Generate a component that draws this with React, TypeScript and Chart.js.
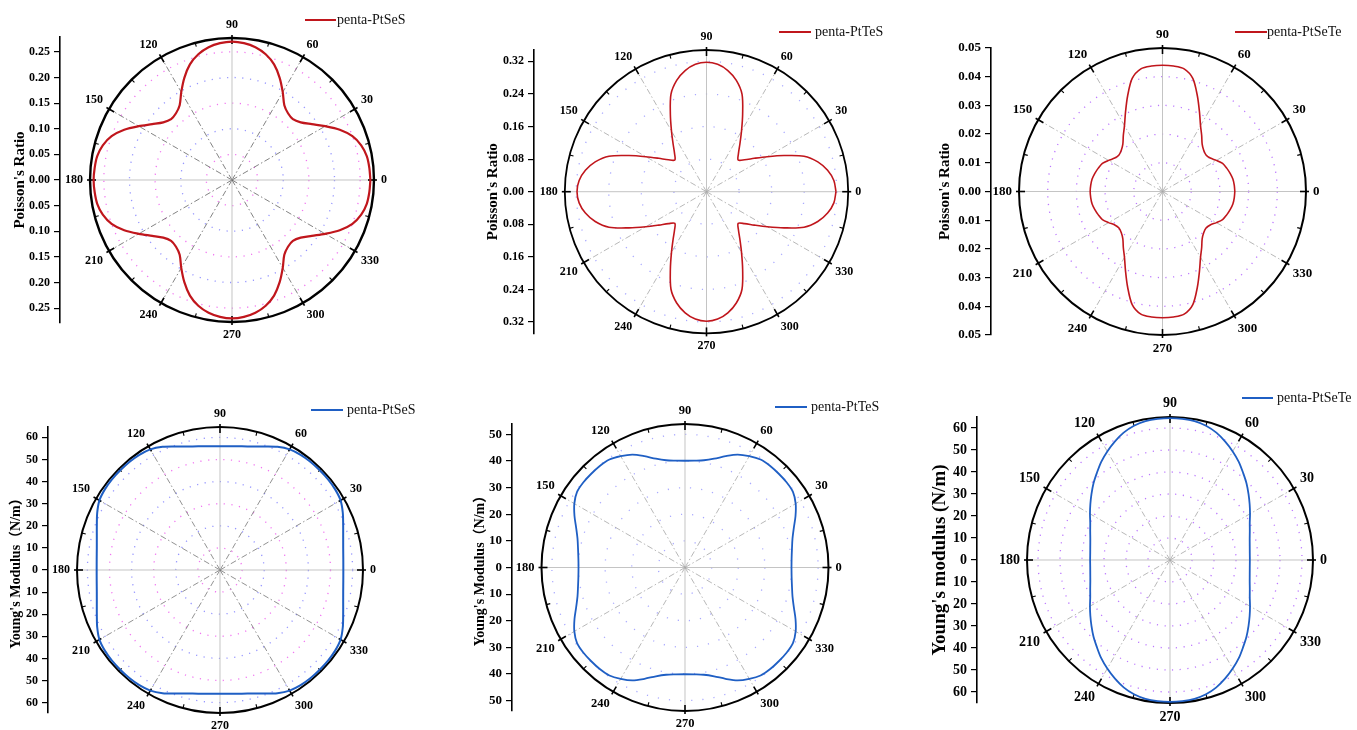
import React, { useEffect, useRef } from 'react';
import { Chart, registerables } from 'chart.js';

Chart.register(...registerables);

// ---------- data ----------
const angles = [
  0, 5, 10, 15, 20, 25, 30, 35, 40, 45, 50, 55, 60, 65, 70, 75, 80, 85, 90,
  95, 100, 105, 110, 115, 120, 125, 130, 135, 140, 145, 150, 155, 160, 165, 170, 175, 180,
  185, 190, 195, 200, 205, 210, 215, 220, 225, 230, 235, 240, 245, 250, 255, 260, 265, 270,
  275, 280, 285, 290, 295, 300, 305, 310, 315, 320, 325, 330, 335, 340, 345, 350, 355, 360,
];

const angleLabels = [0, 30, 60, 90, 120, 150, 180, 210, 240, 270, 300, 330];

const ratioPtSeS = [
  0.270, 0.269, 0.267, 0.261, 0.250, 0.232, 0.210, 0.190, 0.175, 0.168, 0.170, 0.178, 0.198, 0.220, 0.240, 0.254, 0.263, 0.268, 0.270,
  0.268, 0.263, 0.254, 0.240, 0.220, 0.198, 0.178, 0.170, 0.168, 0.175, 0.190, 0.210, 0.232, 0.250, 0.261, 0.267, 0.269, 0.270,
  0.269, 0.267, 0.261, 0.250, 0.232, 0.210, 0.190, 0.175, 0.168, 0.170, 0.178, 0.198, 0.220, 0.240, 0.254, 0.263, 0.268, 0.270,
  0.268, 0.263, 0.254, 0.240, 0.220, 0.198, 0.178, 0.170, 0.168, 0.175, 0.190, 0.210, 0.232, 0.250, 0.261, 0.267, 0.269, 0.270,
];

const ratioPtTeS = [
  0.318, 0.314, 0.302, 0.283, 0.255, 0.210, 0.172, 0.143, 0.122, 0.110, 0.122, 0.143, 0.172, 0.210, 0.255, 0.283, 0.302, 0.314, 0.318,
  0.314, 0.302, 0.283, 0.255, 0.210, 0.172, 0.143, 0.122, 0.110, 0.122, 0.143, 0.172, 0.210, 0.255, 0.283, 0.302, 0.314, 0.318,
  0.314, 0.302, 0.283, 0.255, 0.210, 0.172, 0.143, 0.122, 0.110, 0.122, 0.143, 0.172, 0.210, 0.255, 0.283, 0.302, 0.314, 0.318,
  0.314, 0.302, 0.283, 0.255, 0.210, 0.172, 0.143, 0.122, 0.110, 0.122, 0.143, 0.172, 0.210, 0.255, 0.283, 0.302, 0.314, 0.318,
];

const ratioPtSeTe = [
  0.0252, 0.0251, 0.0249, 0.0244, 0.0238, 0.0231, 0.0217, 0.0203, 0.0198, 0.0203, 0.0215, 0.0238, 0.0265, 0.0305, 0.0355, 0.0408, 0.0434, 0.0439, 0.0440,
  0.0439, 0.0434, 0.0408, 0.0355, 0.0305, 0.0265, 0.0238, 0.0215, 0.0203, 0.0198, 0.0203, 0.0217, 0.0231, 0.0238, 0.0244, 0.0249, 0.0251, 0.0252,
  0.0251, 0.0249, 0.0244, 0.0238, 0.0231, 0.0217, 0.0203, 0.0198, 0.0203, 0.0215, 0.0238, 0.0265, 0.0305, 0.0355, 0.0408, 0.0434, 0.0439, 0.0440,
  0.0439, 0.0434, 0.0408, 0.0355, 0.0305, 0.0265, 0.0238, 0.0215, 0.0203, 0.0198, 0.0203, 0.0217, 0.0231, 0.0238, 0.0244, 0.0249, 0.0251, 0.0252,
];

const youngPtSeS = [
  55.8, 56.0, 56.6, 57.7, 59.3, 61.3, 63.0, 63.6, 63.8, 63.8, 63.8, 63.6, 63.0, 61.5, 59.5, 57.9, 56.8, 56.2, 56.0,
  56.2, 56.8, 57.9, 59.5, 61.5, 63.0, 63.6, 63.8, 63.8, 63.8, 63.6, 63.0, 61.3, 59.3, 57.7, 56.6, 56.0, 55.8,
  56.0, 56.6, 57.7, 59.3, 61.3, 63.0, 63.6, 63.8, 63.8, 63.8, 63.6, 63.0, 61.5, 59.5, 57.9, 56.8, 56.2, 56.0,
  56.2, 56.8, 57.9, 59.5, 61.5, 63.0, 63.6, 63.8, 63.8, 63.8, 63.6, 63.0, 61.3, 59.3, 57.7, 56.6, 56.0, 55.8,
];

const youngPtTeS = [
  40.0, 40.2, 40.8, 41.8, 43.5, 45.8, 48.0, 49.5, 49.8, 49.8, 49.8, 49.5, 48.3, 46.8, 44.5, 42.3, 40.9, 40.3, 40.1,
  40.3, 40.9, 42.3, 44.5, 46.8, 48.3, 49.5, 49.8, 49.8, 49.8, 49.5, 48.0, 45.8, 43.5, 41.8, 40.8, 40.2, 40.0,
  40.2, 40.8, 41.8, 43.5, 45.8, 48.0, 49.5, 49.8, 49.8, 49.8, 49.5, 48.3, 46.8, 44.5, 42.3, 40.9, 40.3, 40.1,
  40.3, 40.9, 42.3, 44.5, 46.8, 48.3, 49.5, 49.8, 49.8, 49.8, 49.5, 48.0, 45.8, 43.5, 41.8, 40.8, 40.2, 40.0,
];

const youngPtSeTe = [
  36.3, 36.4, 36.8, 37.5, 38.6, 40.0, 42.0, 44.2, 46.6, 49.2, 51.7, 54.5, 57.0, 59.4, 61.6, 63.2, 64.1, 64.4, 64.5,
  64.4, 64.1, 63.2, 61.6, 59.4, 57.0, 54.5, 51.7, 49.2, 46.6, 44.2, 42.0, 40.0, 38.6, 37.5, 36.8, 36.4, 36.3,
  36.4, 36.8, 37.5, 38.6, 40.0, 42.0, 44.2, 46.6, 49.2, 51.7, 54.5, 57.0, 59.4, 61.6, 63.2, 64.1, 64.4, 64.5,
  64.4, 64.1, 63.2, 61.6, 59.4, 57.0, 54.5, 51.7, 49.2, 46.6, 44.2, 42.0, 40.0, 38.6, 37.5, 36.8, 36.4, 36.3,
];

const ticksRatioPtSeS = [-0.25, -0.2, -0.15, -0.1, -0.05, 0, 0.05, 0.1, 0.15, 0.2, 0.25];
const ticksRatioPtTeS = [-0.32, -0.24, -0.16, -0.08, 0, 0.08, 0.16, 0.24, 0.32];
const ticksRatioPtSeTe = [-0.05, -0.04, -0.03, -0.02, -0.01, 0, 0.01, 0.02, 0.03, 0.04, 0.05];
const ticksYoungPtSeS = [-60, -50, -40, -30, -20, -10, 0, 10, 20, 30, 40, 50, 60];
const ticksYoungPtTeS = [-50, -40, -30, -20, -10, 0, 10, 20, 30, 40, 50];
const ticksYoungPtSeTe = [-60, -50, -40, -30, -20, -10, 0, 10, 20, 30, 40, 50, 60];

const ringsRatioPtSeS = [0.05, 0.1, 0.15, 0.2, 0.25];
const ringsRatioPtTeS = [0.08, 0.16, 0.24, 0.32];
const ringsRatioPtSeTe = [0.01, 0.02, 0.03, 0.04];
const ringsYoungPtSeS = [10, 20, 30, 40, 50, 60];
const ringsYoungPtTeS = [10, 20, 30, 40, 50];
const ringsYoungPtSeTe = [10, 20, 30, 40, 50, 60];

// ---------- layout / style config ----------
const SERIF = '"Liberation Serif", "Times New Roman", "Noto Sans CJK SC", serif';
const RED = '#c0161c';
const BLUE = '#1f5fc4';

type Panel = {
  left: number; top: number; width: number; height: number;
  axisX: number; axisTop: number; axisBottom: number; cx: number;
  yExtent: number; rOuter: number;
  values: number[]; ticks: number[]; rings: number[]; decimals: number;
  title: string; titleX: number; titleSize: number;
  tickSize: number; angleSize: number;
  legend: string; legendX1: number; legendX2: number; legendY: number; legendTextX: number;
  color: string; lineWidth: number; circleWidth: number;
  ringColors: string[]; ringDash: number[]; spokeColor: string;
};

const panels: Panel[] = [
  {
    left: 0, top: 0, width: 452, height: 365,
    axisX: 60, axisTop: 37, axisBottom: 323, cx: 232,
    yExtent: 0.279, rOuter: 0.277,
    values: ratioPtSeS, ticks: ticksRatioPtSeS, rings: ringsRatioPtSeS, decimals: 2,
    title: "Poisson's Ratio", titleX: 20, titleSize: 15, tickSize: 12, angleSize: 12,
    legend: 'penta-PtSeS', legendX1: 305, legendX2: 336, legendY: 20, legendTextX: 337,
    color: RED, lineWidth: 2.2, circleWidth: 2.4,
    ringColors: ['rgba(235,60,235,0.7)', 'rgba(80,80,255,0.6)'], ringDash: [1.2, 6.5], spokeColor: 'rgba(90,90,90,0.75)',
  },
  {
    left: 452, top: 0, width: 453, height: 365,
    axisX: 534, axisTop: 50, axisBottom: 333.4, cx: 706.5,
    yExtent: 0.348, rOuter: 0.348,
    values: ratioPtTeS, ticks: ticksRatioPtTeS, rings: ringsRatioPtTeS, decimals: 2,
    title: "Poisson's Ratio", titleX: 493, titleSize: 15, tickSize: 12, angleSize: 12,
    legend: 'penta-PtTeS', legendX1: 779, legendX2: 811, legendY: 32, legendTextX: 815,
    color: RED, lineWidth: 1.6, circleWidth: 1.8,
    ringColors: ['rgba(100,100,255,0.55)'], ringDash: [1.2, 10], spokeColor: 'rgba(160,160,160,0.75)',
  },
  {
    left: 905, top: 0, width: 452, height: 365,
    axisX: 991, axisTop: 48, axisBottom: 335, cx: 1162.5,
    yExtent: 0.05, rOuter: 0.05,
    values: ratioPtSeTe, ticks: ticksRatioPtSeTe, rings: ringsRatioPtSeTe, decimals: 2,
    title: "Poisson's Ratio", titleX: 945, titleSize: 15, tickSize: 13, angleSize: 13,
    legend: 'penta-PtSeTe', legendX1: 1235, legendX2: 1267, legendY: 32, legendTextX: 1267,
    color: RED, lineWidth: 1.6, circleWidth: 2,
    ringColors: ['rgba(165,75,255,0.75)'], ringDash: [1.2, 6.5], spokeColor: 'rgba(160,160,160,0.75)',
  },
  {
    left: 0, top: 365, width: 452, height: 365,
    axisX: 48, axisTop: 427, axisBottom: 713, cx: 220,
    yExtent: 64.7, rOuter: 64.7,
    values: youngPtSeS, ticks: ticksYoungPtSeS, rings: ringsYoungPtSeS, decimals: 0,
    title: "Young's Modulus（N/m）", titleX: 16, titleSize: 14, tickSize: 12, angleSize: 12,
    legend: 'penta-PtSeS', legendX1: 311, legendX2: 343, legendY: 410, legendTextX: 347,
    color: BLUE, lineWidth: 2, circleWidth: 2,
    ringColors: ['rgba(235,60,235,0.7)', 'rgba(80,80,255,0.6)'], ringDash: [1.2, 6.5], spokeColor: 'rgba(110,110,110,0.75)',
  },
  {
    left: 452, top: 365, width: 453, height: 365,
    axisX: 512, axisTop: 424, axisBottom: 711, cx: 685,
    yExtent: 53.9, rOuter: 53.9,
    values: youngPtTeS, ticks: ticksYoungPtTeS, rings: ringsYoungPtTeS, decimals: 0,
    title: "Young's Modulus（N/m）", titleX: 480, titleSize: 14, tickSize: 13, angleSize: 12.5,
    legend: 'penta-PtTeS', legendX1: 775, legendX2: 807, legendY: 407, legendTextX: 811,
    color: BLUE, lineWidth: 1.8, circleWidth: 2,
    ringColors: ['rgba(100,100,255,0.55)'], ringDash: [1.2, 10], spokeColor: 'rgba(160,160,160,0.75)',
  },
  {
    left: 905, top: 365, width: 452, height: 365,
    axisX: 977, axisTop: 417, axisBottom: 703, cx: 1170,
    yExtent: 65, rOuter: 65,
    values: youngPtSeTe, ticks: ticksYoungPtSeTe, rings: ringsYoungPtSeTe, decimals: 0,
    title: "Young's modulus (N/m)", titleX: 940, titleSize: 19, tickSize: 14, angleSize: 14,
    legend: 'penta-PtSeTe', legendX1: 1242, legendX2: 1273, legendY: 398, legendTextX: 1277,
    color: BLUE, lineWidth: 1.8, circleWidth: 2,
    ringColors: ['rgba(165,75,255,0.75)'], ringDash: [1.2, 6.5], spokeColor: 'rgba(160,160,160,0.75)',
  },
];

function PolarPanel({ cfg }: { cfg: Panel }) {
  const ref = useRef<HTMLCanvasElement>(null);

  useEffect(() => {
    if (!ref.current) return;
    const k = (cfg.axisBottom - cfg.axisTop) / (2 * cfg.yExtent);
    const xMin = -(cfg.cx - cfg.axisX) / k;
    const xMax = (cfg.left + cfg.width - cfg.cx) / k;
    const data = angles.map((a, i) => {
      const t = (a * Math.PI) / 180;
      return { x: cfg.values[i] * Math.cos(t), y: cfg.values[i] * Math.sin(t) };
    });
    const titleLH = cfg.titleSize * 1.2;

    const polarGrid = {
      id: 'polarGrid',
      beforeDatasetsDraw(chart: any) {
        const { ctx } = chart;
        const xs = chart.scales.x;
        const ys = chart.scales.y;
        const cx = xs.getPixelForValue(0);
        const cy = ys.getPixelForValue(0);
        const R = xs.getPixelForValue(cfg.rOuter) - cx;
        ctx.save();
        // dotted rings
        cfg.rings.forEach((v, ri) => {
          const rp = xs.getPixelForValue(v) - cx;
          const col = cfg.ringColors[ri % cfg.ringColors.length];
          ctx.beginPath();
          ctx.setLineDash(cfg.ringDash);
          ctx.lineDashOffset = 0;
          ctx.strokeStyle = col;
          ctx.lineWidth = 1.3;
          ctx.arc(cx, cy, rp, 0, Math.PI * 2);
          ctx.stroke();
        });
        // spokes
        angleLabels.forEach((a) => {
          const t = (a * Math.PI) / 180;
          ctx.beginPath();
          if (a % 90 === 0) {
            ctx.setLineDash([]);
            ctx.strokeStyle = 'rgba(190,190,190,0.9)';
          } else {
            ctx.setLineDash([6, 2.5, 1.5, 2.5]);
            ctx.strokeStyle = cfg.spokeColor;
          }
          ctx.lineWidth = 1;
          ctx.moveTo(cx, cy);
          ctx.lineTo(cx + R * Math.cos(t), cy - R * Math.sin(t));
          ctx.stroke();
        });
        // outer circle
        ctx.setLineDash([]);
        ctx.beginPath();
        ctx.strokeStyle = '#000';
        ctx.lineWidth = cfg.circleWidth;
        ctx.arc(cx, cy, R, 0, Math.PI * 2);
        ctx.stroke();
        // major + minor ticks
        angleLabels.forEach((a) => {
          const t = (a * Math.PI) / 180;
          const c = Math.cos(t);
          const s = Math.sin(t);
          ctx.lineWidth = 1.6;
          ctx.beginPath();
          ctx.moveTo(cx + (R - 6) * c, cy - (R - 6) * s);
          ctx.lineTo(cx + (R + 3) * c, cy - (R + 3) * s);
          ctx.stroke();
          const tm = ((a + 15) * Math.PI) / 180;
          ctx.lineWidth = 1.1;
          ctx.beginPath();
          ctx.moveTo(cx + (R - 4) * Math.cos(tm), cy - (R - 4) * Math.sin(tm));
          ctx.lineTo(cx + R * Math.cos(tm), cy - R * Math.sin(tm));
          ctx.stroke();
        });
        // angle labels
        ctx.fillStyle = '#000';
        ctx.font = `bold ${cfg.angleSize}px ${SERIF}`;
        const gap = 7;
        angleLabels.forEach((a) => {
          const t = (a * Math.PI) / 180;
          const c = Math.cos(t);
          const s = Math.sin(t);
          ctx.textAlign = c > 0.1 ? 'left' : c < -0.1 ? 'right' : 'center';
          ctx.textBaseline = s > 0.1 ? 'bottom' : s < -0.1 ? 'top' : 'middle';
          ctx.fillText(String(a), cx + (R + gap) * c, cy - (R + gap) * s);
        });
        ctx.restore();
      },
      afterDraw(chart: any) {
        const { ctx } = chart;
        ctx.save();
        ctx.strokeStyle = cfg.color;
        ctx.lineWidth = 2;
        ctx.beginPath();
        ctx.moveTo(cfg.legendX1 - cfg.left, cfg.legendY - cfg.top);
        ctx.lineTo(cfg.legendX2 - cfg.left, cfg.legendY - cfg.top);
        ctx.stroke();
        ctx.fillStyle = '#111';
        ctx.font = `14px ${SERIF}`;
        ctx.textAlign = 'left';
        ctx.textBaseline = 'middle';
        ctx.fillText(chart.data.datasets[0].label, cfg.legendTextX - cfg.left, cfg.legendY - cfg.top);
        ctx.restore();
      },
    };

    const chart = new Chart(ref.current, {
      type: 'scatter',
      data: {
        datasets: [
          {
            label: cfg.legend,
            data,
            showLine: true,
            borderColor: cfg.color,
            backgroundColor: cfg.color,
            borderWidth: cfg.lineWidth,
            pointRadius: 0,
            pointHoverRadius: 0,
            tension: 0.3,
            fill: false,
            clip: false,
          } as any,
        ],
      },
      options: {
        animation: false,
        responsive: false,
        devicePixelRatio: 1,
        events: [],
        layout: {
          padding: {
            left: 0,
            right: 0,
            top: cfg.axisTop - cfg.top,
            bottom: cfg.top + cfg.height - cfg.axisBottom,
          },
        },
        plugins: { legend: { display: false }, tooltip: { enabled: false } },
        scales: {
          x: { type: 'linear', display: false, min: xMin, max: xMax },
          y: {
            type: 'linear',
            position: 'left',
            min: -cfg.yExtent,
            max: cfg.yExtent,
            afterFit: (s: any) => {
              s.width = cfg.axisX - cfg.left;
            },
            afterBuildTicks: (s: any) => {
              s.ticks = cfg.ticks.map((v) => ({ value: v }));
            },
            ticks: {
              color: '#000',
              padding: 4,
              font: { family: SERIF, size: cfg.tickSize, weight: 'bold' },
              callback: (v: any) => Math.abs(Number(v)).toFixed(cfg.decimals),
            },
            grid: {
              drawOnChartArea: false,
              drawTicks: true,
              tickLength: 6,
              color: '#000',
              lineWidth: 1.2,
            },
            border: { display: true, color: '#000', width: 1.6 },
            title: {
              display: true,
              text: cfg.title,
              color: '#000',
              font: { family: SERIF, size: cfg.titleSize, weight: 'bold' },
              padding: { top: cfg.titleX - cfg.left - titleLH / 2, bottom: 0 },
            },
          },
        },
      } as any,
      plugins: [polarGrid],
    });
    return () => chart.destroy();
  }, [cfg]);

  return (
    <canvas
      ref={ref}
      width={cfg.width}
      height={cfg.height}
      style={{ position: 'absolute', left: cfg.left, top: cfg.top, width: cfg.width, height: cfg.height }}
    />
  );
}

export default function App() {
  return (
    <div
      style={{
        position: 'absolute',
        left: 0,
        top: 0,
        width: 1357,
        height: 730,
        background: '#fff',
        overflow: 'hidden',
      }}
    >
      {panels.map((p, i) => (
        <PolarPanel key={i} cfg={p} />
      ))}
    </div>
  );
}
